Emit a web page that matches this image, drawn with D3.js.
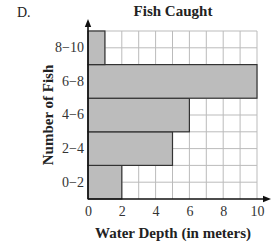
<!DOCTYPE html>
<html>
<head>
<meta charset="UTF-8">
<title>Fish Caught</title>
<script src="https://d3js.org/d3.v7.min.js"></script>
<style>
    body { margin: 0; background: #fff; }
    svg { font-family: "Liberation Serif", "Times New Roman", serif; }
    svg text { font-family: "Liberation Serif", "Times New Roman", serif; }
</style>
</head>
<body>
<svg></svg>
<script>
    const categories = ['0\u22122', '2\u22124', '4\u22126', '6\u22128', '8\u221210'];
    const values = [2, 5, 6, 10, 1];
    const xTicks = [0, 2, 4, 6, 8, 10];

    const margin = { top: 31, right: 19, bottom: 46, left: 88 };
    const W = 276, H = 245;
    const width = W - margin.left - margin.right;
    const height = H - margin.top - margin.bottom;

    const svg = d3.select('svg').attr('width', W).attr('height', H);

    svg.append('defs').append('marker')
        .attr('id', 'arrow')
        .attr('viewBox', '0 0 10 10')
        .attr('refX', 5).attr('refY', 5)
        .attr('markerWidth', 5).attr('markerHeight', 5)
        .attr('orient', 'auto')
        .append('path').attr('d', 'M0,1 L10,5 L0,9 Z').attr('fill', '#111');

    const g = svg.append('g').attr('transform', `translate(${margin.left},${margin.top})`);

    const x = d3.scaleLinear().domain([0, 10]).range([0, width]);
    const y = d3.scaleBand().domain(categories.slice().reverse()).range([0, height]).padding(0);

    // grid: one line per unit across, two rows per band
    g.append('g').selectAll('line')
        .data(d3.range(1, 11))
        .join('line')
        .attr('x1', d => x(d)).attr('x2', d => x(d))
        .attr('y1', 0).attr('y2', height)
        .attr('stroke', '#bbb').attr('stroke-width', 1);
    g.append('g').selectAll('line')
        .data(d3.range(0, 10))
        .join('line')
        .attr('x1', 0).attr('x2', width)
        .attr('y1', d => d * y.bandwidth() / 2).attr('y2', d => d * y.bandwidth() / 2)
        .attr('stroke', '#bbb').attr('stroke-width', 1);

    g.selectAll('.bar')
        .data(categories)
        .join('rect')
        .attr('class', 'bar')
        .attr('x', 0)
        .attr('y', d => y(d))
        .attr('width', (d, i) => x(values[i]))
        .attr('height', y.bandwidth())
        .attr('fill', '#bcbcbc')
        .attr('stroke', '#333')
        .attr('stroke-width', 1.2);

    // axis lines with arrow heads
    g.append('line')
        .attr('x1', 0).attr('x2', width + 10)
        .attr('y1', height).attr('y2', height)
        .attr('stroke', '#111').attr('stroke-width', 1.6)
        .attr('marker-end', 'url(#arrow)');
    g.append('line')
        .attr('x1', 0).attr('x2', 0)
        .attr('y1', height).attr('y2', -8)
        .attr('stroke', '#111').attr('stroke-width', 1.6)
        .attr('marker-end', 'url(#arrow)');

    const xAxis = g.append('g')
        .attr('transform', `translate(0,${height})`)
        .call(d3.axisBottom(x).tickValues(xTicks).tickSize(0).tickPadding(7));
    xAxis.select('.domain').remove();
    xAxis.selectAll('text')
        .attr('font-family', '"Liberation Serif", serif')
        .attr('font-size', 14).attr('fill', '#333');

    const yAxis = g.append('g')
        .call(d3.axisLeft(y).tickSize(0).tickPadding(4));
    yAxis.select('.domain').remove();
    yAxis.selectAll('text')
        .attr('font-family', '"Liberation Serif", serif')
        .attr('font-size', 14).attr('fill', '#333');

    svg.append('text')
        .attr('x', 173).attr('y', 16)
        .attr('text-anchor', 'middle')
        .attr('font-size', 15).attr('font-weight', 'bold').attr('fill', '#222')
        .text('Fish Caught');

    svg.append('text')
        .attr('x', 17).attr('y', 17)
        .attr('font-size', 14).attr('fill', '#222')
        .text('D.');

    svg.append('text')
        .attr('x', 173).attr('y', 238)
        .attr('text-anchor', 'middle')
        .attr('font-size', 15).attr('font-weight', 'bold').attr('fill', '#222')
        .text('Water Depth (in meters)');

    svg.append('text')
        .attr('transform', `translate(53,${margin.top + height / 2}) rotate(-90)`)
        .attr('text-anchor', 'middle')
        .attr('font-size', 15).attr('font-weight', 'bold').attr('fill', '#222')
        .text('Number of Fish');
</script>
</body>
</html>
